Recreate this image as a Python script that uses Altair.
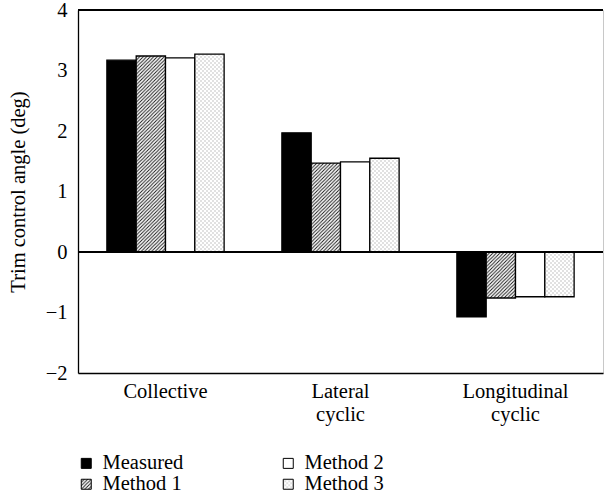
import altair as alt
import pandas as pd
import jinja2
from altair.utils.html import TEMPLATES

# Trim control angles (deg) per control and per estimation method
categories = ["Collective", "Lateral cyclic", "Longitudinal cyclic"]
methods = ["Measured", "Method 1", "Method 2", "Method 3"]
measured = [3.17, 1.97, -1.07]
method1 = [3.24, 1.47, -0.76]
method2 = [3.21, 1.49, -0.74]
method3 = [3.27, 1.55, -0.74]
y_ticks = [-2, -1, 0, 1, 2, 3, 4]

rows = []
for series, vals in zip(methods, [measured, method1, method2, method3]):
    for cat, v in zip(categories, vals):
        rows.append({"control": cat, "method": series, "angle": v})
df = pd.DataFrame(rows)

fills = {
    "Measured": "black",
    "Method 1": "url(#hatch)",
    "Method 2": "white",
    "Method 3": "url(#dots)",
}

FONT = "Liberation Serif"
FS = 20.5

# SVG fill patterns used by the hatched and dotted bars
PATTERN_DEFS = """
<svg width="0" height="0" style="position:absolute;left:0;top:0" aria-hidden="true">
  <defs>
    <pattern id="hatch" patternUnits="userSpaceOnUse" width="3.5" height="3.5">
      <rect width="3.5" height="3.5" fill="#ffffff"/>
      <path d="M-1,1 L1,-1 M0,3.5 L3.5,0 M2.5,4.5 L4.5,2.5" stroke="#111" stroke-width="0.9"/>
    </pattern>
    <pattern id="dots" patternUnits="userSpaceOnUse" width="4" height="4">
      <rect width="4" height="4" fill="#ffffff"/>
      <rect x="0.5" y="0.5" width="1" height="1" fill="#8a8a8a"/>
      <rect x="2.5" y="2.5" width="1" height="1" fill="#8a8a8a"/>
    </pattern>
  </defs>
</svg>
"""


class PatternPage(jinja2.Template):
    def render(self, *args, **kwargs):
        page = TEMPLATES["standard"].render(*args, **kwargs)
        if "<body>" in page:
            return page.replace("<body>", "<body>\n" + PATTERN_DEFS, 1)
        return PATTERN_DEFS + page


x = alt.X(
    "control:N",
    sort=categories,
    title=None,
    scale=alt.Scale(paddingInner=0.33, paddingOuter=0.165),
    axis=alt.Axis(
        labelAngle=0,
        labelExpr="split(datum.label, ' ')",
        ticks=False,
        domainColor="black",
        domainWidth=1.3,
        labelPadding=8,
        labelFont=FONT,
        labelFontSize=FS,
        labelLineHeight=23,
        labelColor="black",
        labelBaseline="top",
    ),
)

y = alt.Y(
    "angle:Q",
    scale=alt.Scale(domain=[-2, 4], nice=False),
    axis=alt.Axis(
        values=y_ticks,
        format="d",
        ticks=False,
        grid=False,
        domainColor="black",
        domainWidth=1.3,
        title="Trim control angle (deg)",
        titleFont=FONT,
        titleFontSize=FS,
        titleFontWeight="normal",
        titleColor="black",
        titlePadding=17,
        labelFont=FONT,
        labelFontSize=FS,
        labelColor="black",
        labelPadding=11,
    ),
)

bars = alt.Chart(df).mark_bar(stroke="black", strokeWidth=1.3).encode(
    x=x,
    xOffset=alt.XOffset(
        "method:N",
        sort=methods,
        scale=alt.Scale(domain=methods, paddingInner=0, paddingOuter=0),
    ),
    y=y,
    fill=alt.Fill(
        "method:N",
        scale=alt.Scale(domain=methods, range=[fills[m] for m in methods]),
        legend=alt.Legend(
            title=None,
            orient="none",
            legendX=-2,
            legendY=443,
            columns=2,
            columnPadding=94,
            rowPadding=0,
            symbolType="square",
            symbolSize=100,
            symbolStrokeColor="black",
            symbolStrokeWidth=1,
            labelOffset=6,
            labelFont=FONT,
            labelFontSize=FS,
            labelColor="black",
        ),
    ),
)

zero_line = alt.Chart(df).mark_rule(color="black", strokeWidth=1.5).encode(y=alt.datum(0))
top_line = alt.Chart(df).mark_rule(color="black", strokeWidth=1.5).encode(y=alt.datum(4))

chart = (
    alt.layer(bars, zero_line, top_line)
    .properties(
        width=525,
        height=363,
        autosize=alt.AutoSizeParams(type="none"),
        padding={"left": 78, "top": 10, "right": 1, "bottom": 126},
        background="white",
    )
    .configure_view(stroke="#c8c8c8", strokeWidth=1)
)

chart.save(
    "out.html",
    embed_options={"renderer": "svg", "actions": False},
    template=PatternPage(""),
)
